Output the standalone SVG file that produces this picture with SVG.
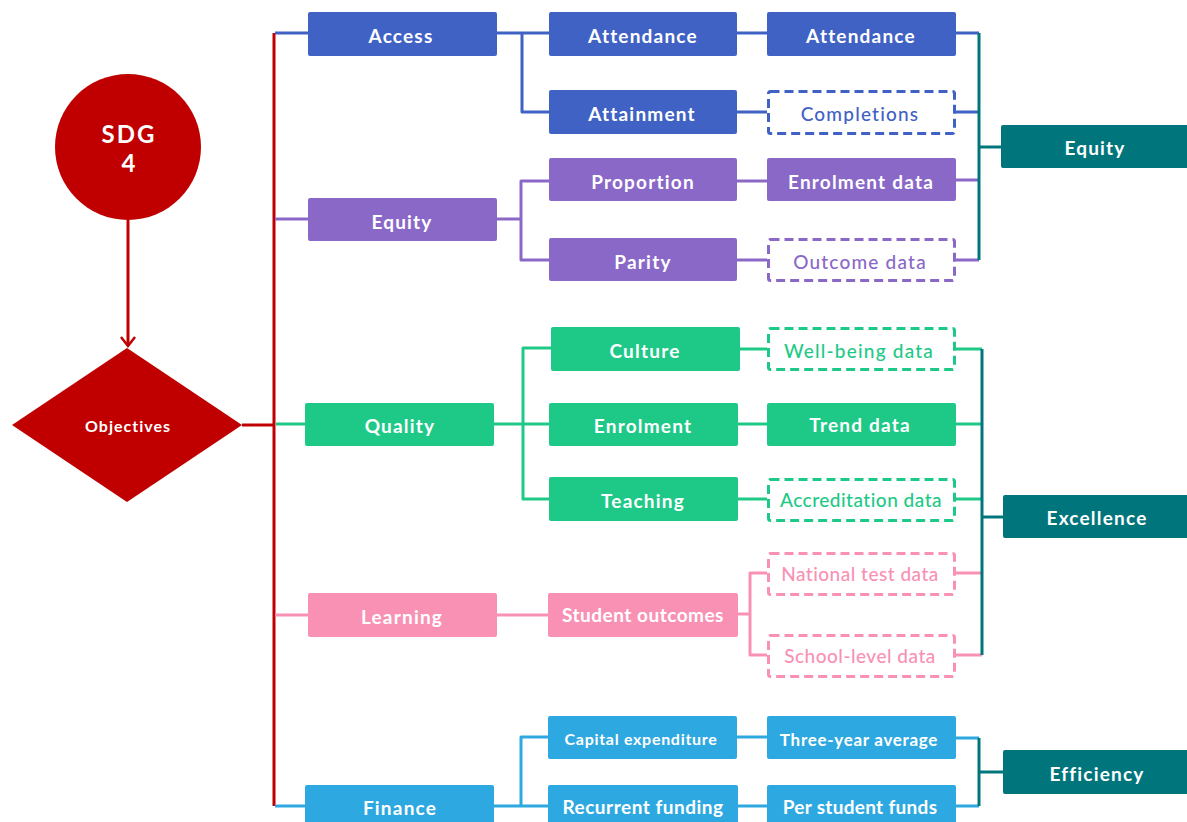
<svg xmlns="http://www.w3.org/2000/svg" width="1187" height="822" viewBox="0 0 1187 822">
<style>
.t{font-family:Lato,"Liberation Sans",sans-serif;font-weight:700;font-size:19px;letter-spacing:1.2px;text-anchor:middle;dominant-baseline:central;fill:#fff}
.d{font-weight:500}
.ln{fill:none;stroke-width:3;stroke-linejoin:round}
.blue{fill:#3F62C4}.pur{fill:#8A68C7}.grn{fill:#1EC987}.pink{fill:#F991B5}.lb{fill:#2EA8E0}.teal{fill:#00767C}
.sb{stroke:#3F62C4}.sp{stroke:#8A68C7}.sg{stroke:#1EC987}.sk{stroke:#F991B5}.sl{stroke:#2EA8E0}.st{stroke:#00767C}.sr{stroke:#C00000}
.dash{fill:#fff;stroke-width:3;stroke-dasharray:9 5}
</style>
<g id="connectors">
<path class="ln sr" d="M128,220 V346"/>
<path d="M121,337 L128,346 L135,337" fill="none" stroke="#C00000" stroke-width="2.5"/>
<path class="ln sr" d="M242,425 H274"/>
<path class="ln sr" d="M274,33 V806"/>
<path class="ln sb" d="M275,33 H308"/>
<path class="ln sp" d="M275,219 H308"/>
<path class="ln sg" d="M276,424 H305"/>
<path class="ln sk" d="M275,615 H308"/>
<path class="ln sl" d="M275,806 H305"/>
<path class="ln sb" d="M497,33 H549 M522,33 V112 H549"/>
<path class="ln sp" d="M497,219 H521 M549,181 H521 V260 H549"/>
<path class="ln sg" d="M494,424 H549 M551,348 H523 V499 H549"/>
<path class="ln sk" d="M497,615 H548"/>
<path class="ln sl" d="M494,806 H548 M548,737 H521 V806"/>
<path class="ln sb" d="M737,33 H767 M737,112 H767"/>
<path class="ln sp" d="M737,181 H767 M737,260 H767"/>
<path class="ln sg" d="M740,349 H767 M738,424 H767 M738,499 H767"/>
<path class="ln sk" d="M738,614 H750 M767,573 H750 V655 H767"/>
<path class="ln sl" d="M737,737 H767 M737,806 H767"/>
<path class="ln sb" d="M956,33 H979 M956,112 H979"/>
<path class="ln sp" d="M956,180 H980 M956,260 H979"/>
<path class="ln st" d="M979,33 V260 M979,147 H1001"/>
<path class="ln sg" d="M955,349 H982 M956,424 H982 M955,499 H982"/>
<path class="ln sk" d="M955,573 H982 M955,655 H982"/>
<path class="ln st" d="M982,349 V655 M982,517 H1003"/>
<path class="ln sl" d="M956,738 H979 M956,806 H979"/>
<path class="ln st" d="M979,738 V806 M979,772 H1003"/>
</g>
<g id="sdg4"><circle cx="128" cy="147" r="73" fill="#C00000"/><text class="t" x="129" y="133" style="font-size:24px;letter-spacing:2px">SDG</text><text class="t" x="129" y="162" style="font-size:24px">4</text></g>
<g id="objectives"><polygon points="127,348 242,425 127,502 12,425" fill="#C00000"/><text class="t" x="128" y="425" style="font-size:16px;letter-spacing:1px">Objectives</text></g>
<g id="access"><rect class="blue" x="308" y="12" width="189" height="44" rx="2"/><text class="t" x="401" y="35">Access</text></g>
<g id="equity"><rect class="pur" x="308" y="198" width="189" height="43" rx="2"/><text class="t" x="402" y="221">Equity</text></g>
<g id="quality"><rect class="grn" x="305" y="403" width="189" height="43" rx="2"/><text class="t" x="400" y="425">Quality</text></g>
<g id="learning"><rect class="pink" x="308" y="593" width="189" height="44" rx="2"/><text class="t" x="402" y="616">Learning</text></g>
<g id="finance"><rect class="lb" x="305" y="785" width="189" height="44" rx="2"/><text class="t" x="400" y="807">Finance</text></g>
<g id="attendance1"><rect class="blue" x="549" y="12" width="188" height="44" rx="2"/><text class="t" x="643" y="35">Attendance</text></g>
<g id="attainment"><rect class="blue" x="549" y="90" width="188" height="44" rx="2"/><text class="t" x="642" y="113">Attainment</text></g>
<g id="proportion"><rect class="pur" x="549" y="158" width="188" height="43" rx="2"/><text class="t" x="643" y="181">Proportion</text></g>
<g id="parity"><rect class="pur" x="549" y="238" width="188" height="43" rx="2"/><text class="t" x="643" y="261">Parity</text></g>
<g id="culture"><rect class="grn" x="551" y="327" width="189" height="44" rx="2"/><text class="t" x="645" y="350">Culture</text></g>
<g id="enrolment"><rect class="grn" x="549" y="403" width="189" height="43" rx="2"/><text class="t" x="643" y="425">Enrolment</text></g>
<g id="teaching"><rect class="grn" x="549" y="477" width="189" height="44" rx="2"/><text class="t" x="643" y="500">Teaching</text></g>
<g id="studentoutcomes"><rect class="pink" x="548" y="593" width="190" height="44" rx="2"/><text class="t" x="643" y="614" style="letter-spacing:0.5px">Student outcomes</text></g>
<g id="capex"><rect class="lb" x="548" y="716" width="189" height="43" rx="2"/><text class="t" x="641" y="738" style="font-size:16px;letter-spacing:0.7px">Capital expenditure</text></g>
<g id="recurrent"><rect class="lb" x="548" y="785" width="190" height="44" rx="2"/><text class="t" x="643" y="806" style="letter-spacing:0.5px">Recurrent funding</text></g>
<g id="attendance2"><rect class="blue" x="767" y="12" width="189" height="44" rx="2"/><text class="t" x="861" y="35">Attendance</text></g>
<g id="completions"><rect class="dash sb" x="768.5" y="91.5" width="186" height="42" rx="2"/><text class="t d" x="860" y="113" style="fill:#3F62C4">Completions</text></g>
<g id="enrolmentdata"><rect class="pur" x="767" y="158" width="189" height="43" rx="2"/><text class="t" x="861" y="181">Enrolment data</text></g>
<g id="outcomedata"><rect class="dash sp" x="768.5" y="239.5" width="186" height="41" rx="2"/><text class="t d" x="860" y="261" style="fill:#8A68C7">Outcome data</text></g>
<g id="wellbeing"><rect class="dash sg" x="768.5" y="328.5" width="186" height="41" rx="2"/><text class="t d" x="859" y="350" style="fill:#1EC987">Well-being data</text></g>
<g id="trenddata"><rect class="grn" x="767" y="403" width="189" height="43" rx="2"/><text class="t" x="860" y="424">Trend data</text></g>
<g id="accreditation"><rect class="dash sg" x="768.5" y="479.5" width="186" height="41" rx="2"/><text class="t d" x="861" y="499" style="fill:#1EC987;letter-spacing:0.5px">Accreditation data</text></g>
<g id="nationaltest"><rect class="dash sk" x="768.5" y="553.5" width="186" height="41" rx="2"/><text class="t d" x="860" y="573" style="fill:#F991B5;letter-spacing:0.5px">National test data</text></g>
<g id="schoollevel"><rect class="dash sk" x="768.5" y="635.5" width="186" height="41" rx="2"/><text class="t d" x="860" y="655" style="fill:#F991B5;letter-spacing:0.5px">School-level data</text></g>
<g id="threeyear"><rect class="lb" x="767" y="716" width="189" height="43" rx="2"/><text class="t" x="859" y="739" style="font-size:17px;letter-spacing:0.7px">Three-year average</text></g>
<g id="perstudent"><rect class="lb" x="767" y="785" width="189" height="44" rx="2"/><text class="t" x="860" y="806" style="letter-spacing:0.3px">Per student funds</text></g>
<g id="equityout"><rect class="teal" x="1001" y="125" width="200" height="43" rx="2"/><text class="t" x="1095" y="147">Equity</text></g>
<g id="excellence"><rect class="teal" x="1003" y="495" width="200" height="43" rx="2"/><text class="t" x="1097" y="517">Excellence</text></g>
<g id="efficiency"><rect class="teal" x="1003" y="750" width="200" height="44" rx="2"/><text class="t" x="1097" y="773">Efficiency</text></g>
</svg>
